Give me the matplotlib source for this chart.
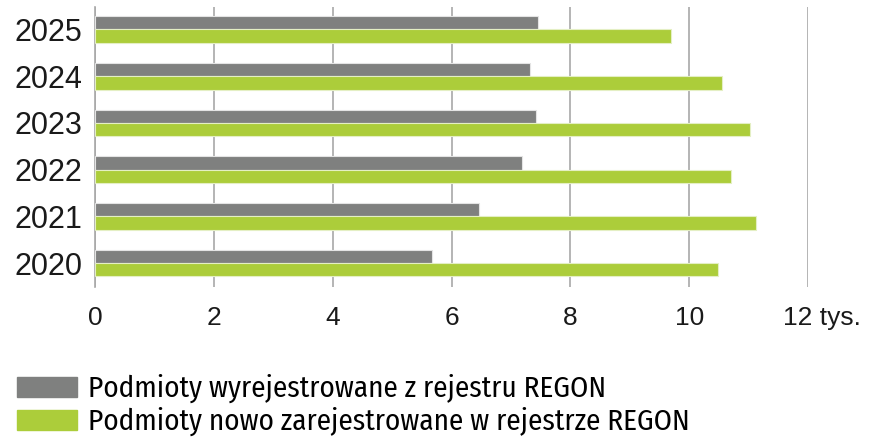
import matplotlib
matplotlib.use("Agg")
import matplotlib.pyplot as plt
from matplotlib.patches import Patch
from matplotlib.transforms import ScaledTranslation
import numpy as np

# dane (tys.)
years = ["2020", "2021", "2022", "2023", "2024", "2025"]
wyrejestrowane = [5.68, 6.47, 7.19, 7.43, 7.32, 7.45]
nowo = [10.48, 11.12, 10.71, 11.03, 10.56, 9.70]
xticks = [0, 2, 4, 6, 8, 10, 12]
xticklabels = ["0", "2", "4", "6", "8", "10", "12 tys."]
labels = ["Podmioty wyrejestrowane z rejestru REGON",
          "Podmioty nowo zarejestrowane w rejestrze REGON"]

GRAY = "#7f807f"
GREEN = "#accd3a"

plt.rcParams["font.family"] = ["Liberation Sans", "DejaVu Sans"]

fig = plt.figure(figsize=(8.85, 4.38), dpi=100)
ax = fig.add_axes([95/885, 151/438, (808-95)/885, 280/438])

y = np.arange(len(years))
h = 0.285
ax.barh(y + h/2, wyrejestrowane, height=h, color=GRAY, edgecolor="#e4e4e4", lw=0.8, zorder=3)
ax.barh(y - h/2, nowo, height=h, color=GREEN, edgecolor="#e4efc4", lw=0.8, zorder=3)

ax.set_xlim(0, 12)
ax.set_ylim(-0.51, 5.48)
ax.set_xticks(xticks)
ax.set_xticklabels(xticklabels, fontsize=19, color="#1a1a1a")
ax.set_yticks(y)
ax.set_yticklabels(years, fontsize=22, color="#1a1a1a")
ax.tick_params(length=0)
ax.tick_params(axis="y", pad=9)
ax.tick_params(axis="x", pad=14)
lbl = ax.get_xticklabels()[-1]
lbl.set_ha("left")
lbl.set_transform(lbl.get_transform() + ScaledTranslation(-0.25, 0, fig.dpi_scale_trans))

ax.grid(axis="x", color="#a8a8a8", lw=1.2, zorder=0)
for s in ["top", "right", "bottom"]:
    ax.spines[s].set_visible(False)
ax.spines["left"].set_color("#a8a8a8")
ax.spines["left"].set_linewidth(1.2)

handles = [Patch(color=GRAY), Patch(color=GREEN)]
fig.legend(handles, labels, loc="upper left", bbox_to_anchor=(17/885, 1 - 374/438),
           frameon=False, handlelength=2.05, handleheight=0.68, handletextpad=0.38,
           labelspacing=0.12, borderaxespad=0, borderpad=0,
           prop={"family": ["Fira Sans Condensed", "Liberation Sans", "DejaVu Sans"],
                 "size": 21, "weight": "normal"})

fig.savefig("out.png", dpi=100)
